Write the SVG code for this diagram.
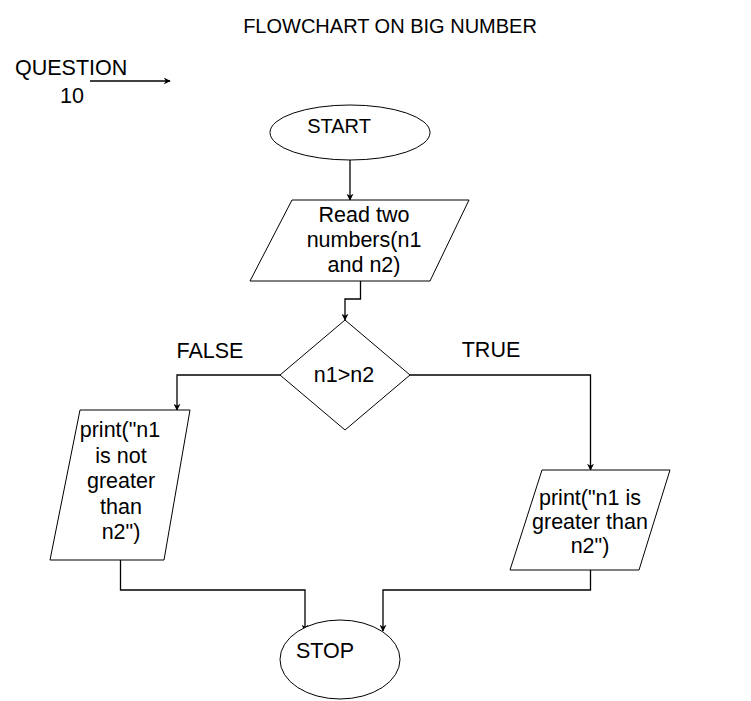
<svg xmlns="http://www.w3.org/2000/svg" width="751" height="701" viewBox="0 0 751 701">
<defs>
<style>
text{font-family:"Liberation Sans",Arial,sans-serif;font-size:21.5px;fill:#000}
.t{font-size:20px}
.m{text-anchor:middle}
.s{fill:#fff;stroke:#000;stroke-width:1}
.c{fill:none;stroke:#000;stroke-width:1.3;marker-end:url(#a)}
</style>
<marker id="a" viewBox="0 0 10 10" refX="9" refY="5" markerWidth="7" markerHeight="7" markerUnits="userSpaceOnUse" orient="auto">
<path d="M0,0 L10,5 L0,10 L3,5 Z" fill="#000"/>
</marker>
</defs>
<rect width="751" height="701" fill="#fff"/>
<g id="title"><text class="m t" x="390" y="33">FLOWCHART ON BIG NUMBER</text></g>
<g id="question"><text x="15" y="75">QUESTION</text><text class="m" x="72" y="103">10</text></g>
<g id="connectors">
<path class="c" d="M90,81 H170"/>
<path class="c" d="M350,160 V200"/>
<path class="c" d="M360.5,281 V299 H345 V320"/>
<path class="c" d="M280,375 H177 V410"/>
<path class="c" d="M410,375 H590.5 V470"/>
<path class="c" d="M120.5,560 V590 H305 V631"/>
<path class="c" d="M590.5,570 V590 H383 V631"/>
</g>
<g id="start"><ellipse class="s" cx="350" cy="132.5" rx="80" ry="27.5"/><text class="m t" x="339" y="133">START</text></g>
<g id="read"><polygon class="s" points="292,200 469,200 430,281 250,281"/>
<text class="m" x="364" y="222">Read two</text><text class="m" x="364" y="247">numbers(n1</text><text class="m" x="364" y="272">and n2)</text></g>
<g id="decision"><polygon class="s" points="345,320 410,375 345,430 280,375"/><text class="m" x="344" y="382">n1&gt;n2</text></g>
<g id="false-label"><text class="m" x="210" y="358">FALSE</text></g>
<g id="true-label"><text class="m" x="491" y="357">TRUE</text></g>
<g id="print-false"><polygon class="s" points="80,410 190,410 164,560 50,560"/>
<text class="m" x="120" y="437">print("n1</text><text class="m" x="121" y="463">is not</text><text class="m" x="121" y="488">greater</text><text class="m" x="121" y="514">than</text><text class="m" x="121" y="539">n2")</text></g>
<g id="print-true"><polygon class="s" points="542,470 670,470 639,570 510,570"/>
<text class="m" x="590" y="505">print("n1 is</text><text class="m" x="590" y="529">greater than</text><text class="m" x="590" y="553">n2")</text></g>
<g id="stop"><ellipse class="s" cx="340" cy="659.5" rx="60" ry="39.5"/><text x="296" y="658">STOP</text></g>
</svg>
